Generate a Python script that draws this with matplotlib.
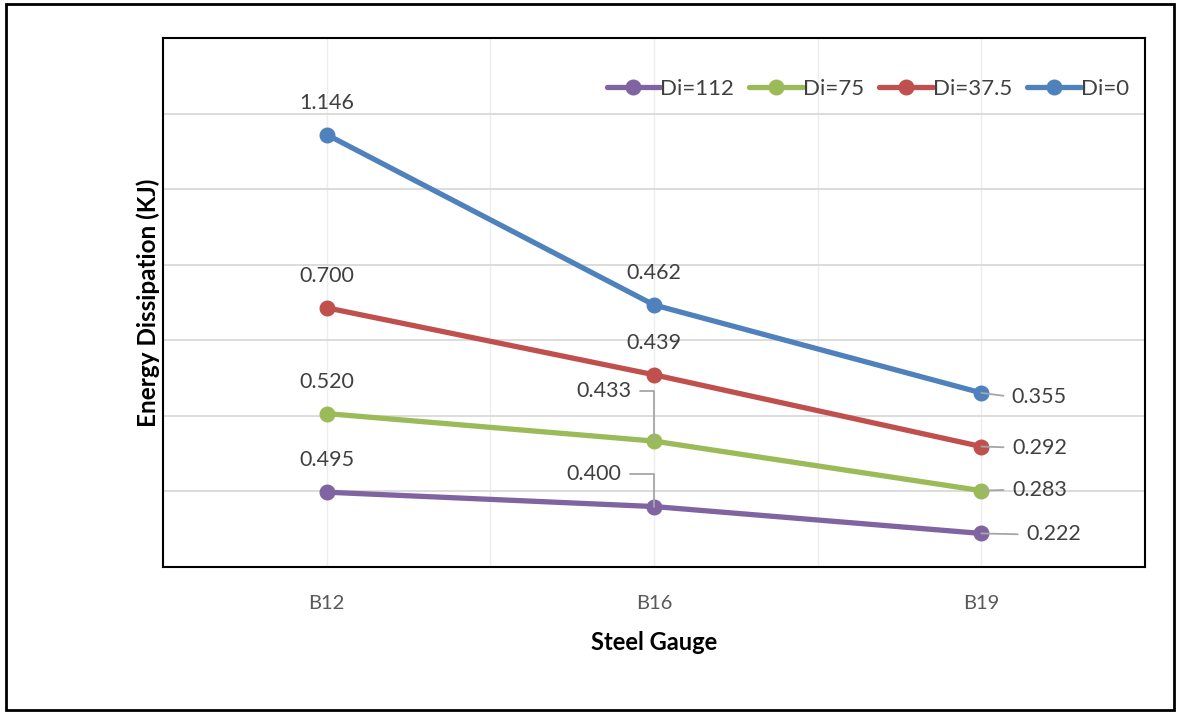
import matplotlib
matplotlib.use("Agg")
import matplotlib.pyplot as plt
import numpy as np
from matplotlib.patches import Rectangle

categories = ["B12", "B16", "B19"]
series_names = ["Di=112", "Di=75", "Di=37.5", "Di=0"]
di112 = [0.495, 0.400, 0.222]
di75 = [0.520, 0.433, 0.283]
di375 = [0.700, 0.439, 0.292]
di0 = [1.146, 0.462, 0.355]
colors = ["#8064A2", "#9BBB59", "#C0504D", "#4F81BD"]

plt.rcParams['font.family'] = ['Lato', 'DejaVu Sans']

fig = plt.figure(figsize=(11.78, 7.15), dpi=100)
ax = fig.add_axes([163/1178, 1-567/715, (1145-163)/1178, (567-38)/715])

x = np.arange(len(categories)) + 0.5
series = [di112, di75, di375, di0]
cum = np.cumsum(np.array(series), axis=0)

# label offsets (pixels) and leader anchors per series / category
offsets = {
    0: [((0, 32), None), ((-60, 33), (1, 0.5)), ((72, -1), (0, 0.5))],
    1: [((0, 32), None), ((-50, 50), (1, 0.5)), ((58, 1), (0, 0.5))],
    2: [((0, 32), None), ((0, 32), None), ((58, -1), (0, 0.5))],
    3: [((0, 32), None), ((0, 32), None), ((58, -4), (0, 0.5))],
}

for i, (name, vals, col) in enumerate(zip(series_names, series, colors)):
    ax.plot(x, cum[i], color=col, lw=3.8, marker='o', ms=10.5, label=name,
            solid_capstyle='round', zorder=3)
    for j in range(len(categories)):
        off, rel = offsets[i][j]
        txt = f"{vals[j]:.3f}"
        if rel is None:
            ax.annotate(txt, (x[j], cum[i][j]), xytext=off, textcoords='offset pixels',
                        ha='center', va='center', fontsize=15.5, color='#404040', zorder=4)
        else:
            cs = "angle,angleA=0,angleB=90,rad=0" if j == 1 else "arc3"
            ax.annotate(txt, (x[j], cum[i][j]), xytext=off, textcoords='offset pixels',
                        ha='center', va='center', fontsize=15.5, color='#404040', zorder=4,
                        arrowprops=dict(arrowstyle='-', color='#A6A6A6', lw=1.3,
                                        relpos=rel, shrinkA=4, shrinkB=0,
                                        connectionstyle=cs))

ax.set_xlim(0, 3)
ax.set_ylim(0, 3.5)
ax.set_yticks(np.arange(0.5, 3.01, 0.5))
ax.set_yticklabels([])
ax.tick_params(axis='y', length=0)
ax.set_xticks(x)
ax.set_xticklabels(categories, fontsize=14.5, color='#595959')
ax.set_xticks([1, 2], minor=True)
ax.tick_params(axis='x', which='both', length=0, pad=20)
ax.grid(axis='y', which='major', color='#D9D9D9', lw=1.3, zorder=0)
ax.grid(axis='x', which='both', color='#EDEDED', lw=1.0, zorder=0)
for s in ax.spines.values():
    s.set_color('black')
    s.set_linewidth(1.5)

ax.set_xlabel("Steel Gauge", fontsize=17, fontweight='bold', labelpad=14)
ax.set_ylabel("Energy Dissipation (KJ)", fontsize=17.5, fontweight='bold', labelpad=-1)

leg = ax.legend(loc='upper right', bbox_to_anchor=(1.004, 0.96), ncol=4, frameon=False,
                fontsize=16, handlelength=2.4, handletextpad=0.0, columnspacing=0.7,
                labelcolor='#404040')

fig.add_artist(Rectangle((6/1178, 5/715), 1168/1178, 706/715, transform=fig.transFigure,
                         fill=False, edgecolor='black', lw=2.0))

fig.savefig("out.png", dpi=100)
